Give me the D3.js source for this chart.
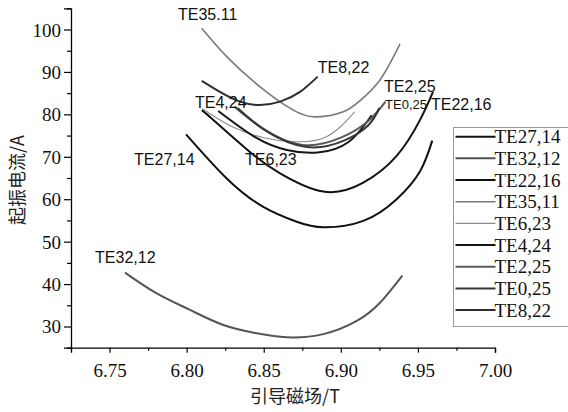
<!DOCTYPE html>
<html>
<head>
<meta charset="utf-8">
<script src="https://cdn.jsdelivr.net/npm/d3@7"></script>
<style>
  body { margin: 0; background: #fff; }
  svg { display: block; }
  .serif { font-family: "Liberation Serif", "DejaVu Serif", "Times New Roman", serif; }
</style>
</head>
<body>
<div id="chart"></div>
<script>
// series as [B (T), I (A)]
var te27_14 = [[6.7996,75.3],[6.826,64.9],[6.8497,58.2],[6.8714,54.7],[6.8886,53.4],[6.9146,54.9],[6.9362,60.0],[6.9514,66.6],[6.9593,73.8]];
var te32_12 = [[6.760,42.7],[6.7806,37.8],[6.8022,33.9],[6.8238,30.35],[6.8454,28.4],[6.8649,27.45],[6.8887,28.2],[6.9103,31.3],[6.9254,35.6],[6.9399,42.0]];
var te22_16 = [[6.8098,81.0],[6.8173,78.7],[6.8422,70.8],[6.8606,66.1],[6.8886,61.8],[6.9146,63.9],[6.9362,70.2],[6.9514,78.7],[6.9598,85.3]];
var te35_11 = [[6.8098,100.3],[6.826,93.6],[6.8476,86.5],[6.8692,81.0],[6.8844,79.4],[6.9016,80.6],[6.9124,83.2],[6.9254,88.1],[6.9384,96.6]];
var te6_23  = [[6.810,81.4],[6.830,77.0],[6.850,74.5],[6.868,73.6],[6.890,74.6],[6.909,80.6]];
var te4_24  = [[6.8205,80.8],[6.845,74.5],[6.865,71.6],[6.885,71.0],[6.905,73.5],[6.920,79.8]];
var te2_25  = [[6.831,81.8],[6.850,76.5],[6.875,72.8],[6.900,74.5],[6.918,78.5],[6.929,83.0]];
var te0_25  = [[6.833,81.5],[6.852,76.0],[6.878,72.3],[6.902,73.8],[6.918,77.5],[6.925,81.5]];
var te8_22  = [[6.8098,87.9],[6.8216,85.3],[6.8346,83.0],[6.8476,82.2],[6.8606,83.0],[6.8735,85.3],[6.885,88.9]];

var names = ["TE27,14","TE32,12","TE22,16","TE35,11","TE6,23","TE4,24","TE2,25","TE0,25","TE8,22"];
var seriesData = [te27_14, te32_12, te22_16, te35_11, te6_23, te4_24, te2_25, te0_25, te8_22];
var colors = ["#111","#555","#111","#7a7a7a","#8c8c8c","#151515","#5a5a5a","#383838","#2e2e2e"];
var widths = [2, 2, 2, 1.6, 1.1, 2, 2, 2, 2];

// curve labels in the plot
var labelText = ["TE35.11","TE8,22","TE2,25","TE0,25","TE22,16","TE4,24","TE27,14","TE6,23","TE32,12"];
var labelB = [6.7944, 6.885, 6.928, 6.9287, 6.9585, 6.8054, 6.7659, 6.8379, 6.7406];
var labelI = [102.2, 89.7, 85.3, 81.3, 81.0, 81.5, 68.1, 68.1, 45.0];

var xMajor = [6.75, 6.80, 6.85, 6.90, 6.95, 7.00];
var yMajor = [30, 40, 50, 60, 70, 80, 90, 100];

var W = 568, H = 412;
var margin = {top: 8.3, left: 71, right: 73, bottom: 64.3};
var width = W - margin.left - margin.right,
    height = H - margin.top - margin.bottom;

var svg = d3.select("#chart").append("svg")
  .attr("width", W).attr("height", H);

var x = d3.scaleLinear().domain([6.725, 7.0]).range([margin.left, margin.left + width]);
var y = d3.scaleLinear().domain([25, 105]).range([margin.top + height, margin.top]);

// axes
var xAxis = d3.axisBottom(x).tickValues(xMajor).tickSize(5).tickFormat(d3.format(".2f"));
var yAxis = d3.axisLeft(y).tickValues(yMajor).tickSize(7).tickPadding(3).tickFormat(d3.format("d"));

var gx = svg.append("g").attr("transform", `translate(0,${margin.top + height})`).call(xAxis);
var gy = svg.append("g").attr("transform", `translate(${margin.left},0)`).call(yAxis);

// minor ticks
svg.append("g").attr("transform", `translate(0,${margin.top + height})`)
  .call(d3.axisBottom(x).tickValues(d3.range(6.725, 7.0, 0.05)).tickSize(3).tickFormat(""))
  .select(".domain").remove();
svg.append("g").attr("transform", `translate(${margin.left},0)`)
  .call(d3.axisLeft(y).tickValues(d3.range(25, 106, 10)).tickSize(4).tickFormat(""))
  .select(".domain").remove();

svg.selectAll(".domain").attr("stroke", "#000").attr("stroke-width", 1.3);
svg.selectAll(".tick line").attr("stroke", "#000").attr("stroke-width", 1.2);
[gx, gy].forEach(g => {
  g.attr("font-family", null).attr("font-size", null);
  g.selectAll("text")
    .attr("class", "serif")
    .attr("font-size", 19).attr("fill", "#111");
});
gx.selectAll("text").attr("y", 29).attr("dy", null);
gy.selectAll("text").attr("dy", 6.5);

// axis titles
svg.append("text")
  .attr("x", 295).attr("y", 403)
  .attr("text-anchor", "middle")
  .attr("font-family", "'Noto Sans CJK SC', sans-serif")
  .attr("font-size", 18).attr("fill", "#222")
  .text("引导磁场/T");

svg.append("text")
  .attr("transform", "translate(24,180) rotate(-90)")
  .attr("text-anchor", "middle")
  .attr("font-family", "'Noto Sans CJK SC', sans-serif")
  .attr("font-size", 18).attr("fill", "#222")
  .text("起振电流/A");

// curves
var line = d3.line()
  .x(d => x(d[0]))
  .y(d => y(d[1]))
  .curve(d3.curveNatural);

svg.append("g").selectAll("path")
  .data(seriesData)
  .join("path")
    .attr("d", line)
    .attr("fill", "none")
    .attr("stroke", (d, i) => colors[i])
    .attr("stroke-width", (d, i) => widths[i]);

// curve labels
svg.append("g").selectAll("text")
  .data(labelText)
  .join("text")
    .attr("x", (d, i) => x(labelB[i]))
    .attr("y", (d, i) => y(labelI[i]))
    .attr("font-family", "'Liberation Sans', Arial, sans-serif")
    .attr("font-size", d => d == "TE0,25" ? 13 : 16)
    .attr("fill", "#111")
    .text(d => d);

// legend
var lg = svg.append("g").attr("transform", "translate(453.5,127.5)");
lg.append("rect")
  .attr("width", 120).attr("height", 199)
  .attr("fill", "#fff").attr("stroke", "#999").attr("stroke-width", 1);

var rows = lg.selectAll("g.row")
  .data(names)
  .join("g")
    .attr("class", "row")
    .attr("transform", (d, i) => `translate(0,${9.2 + i * 21.67})`);

rows.append("line")
  .attr("x1", 2).attr("x2", 42)
  .attr("stroke", (d, i) => colors[i])
  .attr("stroke-width", (d, i) => widths[i]);

rows.append("text")
  .attr("class", "serif")
  .attr("x", 41).attr("y", 6.5)
  .attr("font-size", 19).attr("fill", "#111")
  .text(d => d);
</script>
</body>
</html>
